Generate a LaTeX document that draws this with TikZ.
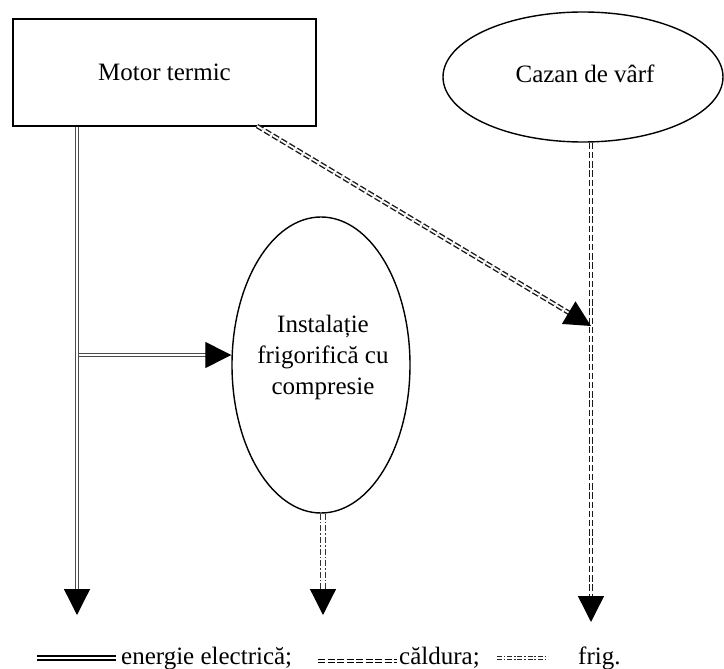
\documentclass[tikz,border=0pt]{standalone}
\usepackage{fontspec}
\setmainfont{Liberation Serif}
\usetikzlibrary{arrows.meta,shapes.geometric}
\begin{document}
\begin{tikzpicture}[x=1pt,y=-1pt,
  lbl/.style={font=\fontsize{25}{31}\selectfont, align=center, inner sep=0pt},
  shapeline/.style={draw=black, line width=1.4pt},
  elec/.style={draw=black!70, line width=1.3pt, double=white, double distance=2.2pt},
  heat/.style={draw=black!90, line width=1.4pt, double=white, double distance=1.8pt, dash pattern=on 6.5pt off 2.7pt},
  cold/.style={draw=black!80, line width=1.2pt, double=white, double distance=3.2pt, dash pattern=on 6pt off 2pt on 1.6pt off 2pt},
  tip/.style={-{Triangle[length=26pt,width=26pt,color=black,fill=black]}},
  lgline/.style={draw=black, line width=1.1pt},
]
\useasboundingbox (0,0) rectangle (724,669);

% nodes
\node[shapeline, minimum width=303pt, minimum height=107pt] (motor) at (164.5,72.5) {};
\node[lbl] (motortxt) at (motor.center) {Motor termic};
\node[shapeline, ellipse, minimum width=280pt, minimum height=130pt] (cazan) at (583,77) {};
\node[lbl] (cazantxt) at (585,74) {Cazan de vârf};
\node[shapeline, ellipse, minimum width=178pt, minimum height=296pt] (inst) at (321,365) {};
\node[lbl] (insttxt) at (323,357) {Instalație\\frigorifică cu\\compresie};

% coordinates
\coordinate (lefttip) at (77,615);
\coordinate (branch) at (78.5,355);
\coordinate (dstart) at (257,126);
\coordinate (heatjoin) at (591,326);
\coordinate (righttip) at (591,622);
\coordinate (midtip) at (323,615);

% connectors
\draw[elec,tip] (motor.south -| lefttip) -- (lefttip);
\draw[elec,tip] (branch) -- (branch -| inst.west);
\draw[heat,tip] (dstart) -- (heatjoin);
\draw[heat,tip] (cazan.south -| righttip) -- (righttip);
\draw[cold,tip] (inst.south -| midtip) -- (midtip);

% legend
\coordinate (le1) at (37,658);
\coordinate (le2) at (116,658);
\draw[draw=black, line width=2pt, double=white, double distance=1.2pt] (le1) -- (le2);
\node[lbl, anchor=base west] (letxt) at (121,664) {energie electrică;};

\coordinate (lh1) at (318,659.5);
\coordinate (lh2) at (397,659.5);
\coordinate (lh3) at (318,662.5);
\coordinate (lh4) at (397,662.5);
\draw[lgline, dash pattern=on 7pt off 2.5pt] (lh1) -- (lh2);
\draw[lgline, dash pattern=on 7pt off 2.5pt] (lh3) -- (lh4);
\node[lbl, anchor=base west] (lhtxt) at (399,664) {căldura;};

\coordinate (lc1) at (497,656.5);
\coordinate (lc2) at (548,656.5);
\coordinate (lc3) at (497,659.5);
\coordinate (lc4) at (548,659.5);
\draw[lgline, draw=black!85, dash pattern=on 5pt off 1.8pt on 1.6pt off 1.8pt] (lc1) -- (lc2);
\draw[lgline, draw=black!85, dash pattern=on 5pt off 1.8pt on 1.6pt off 1.8pt] (lc3) -- (lc4);
\node[lbl, anchor=base west] (lctxt) at (578,664) {frig.};
\end{tikzpicture}
\end{document}
